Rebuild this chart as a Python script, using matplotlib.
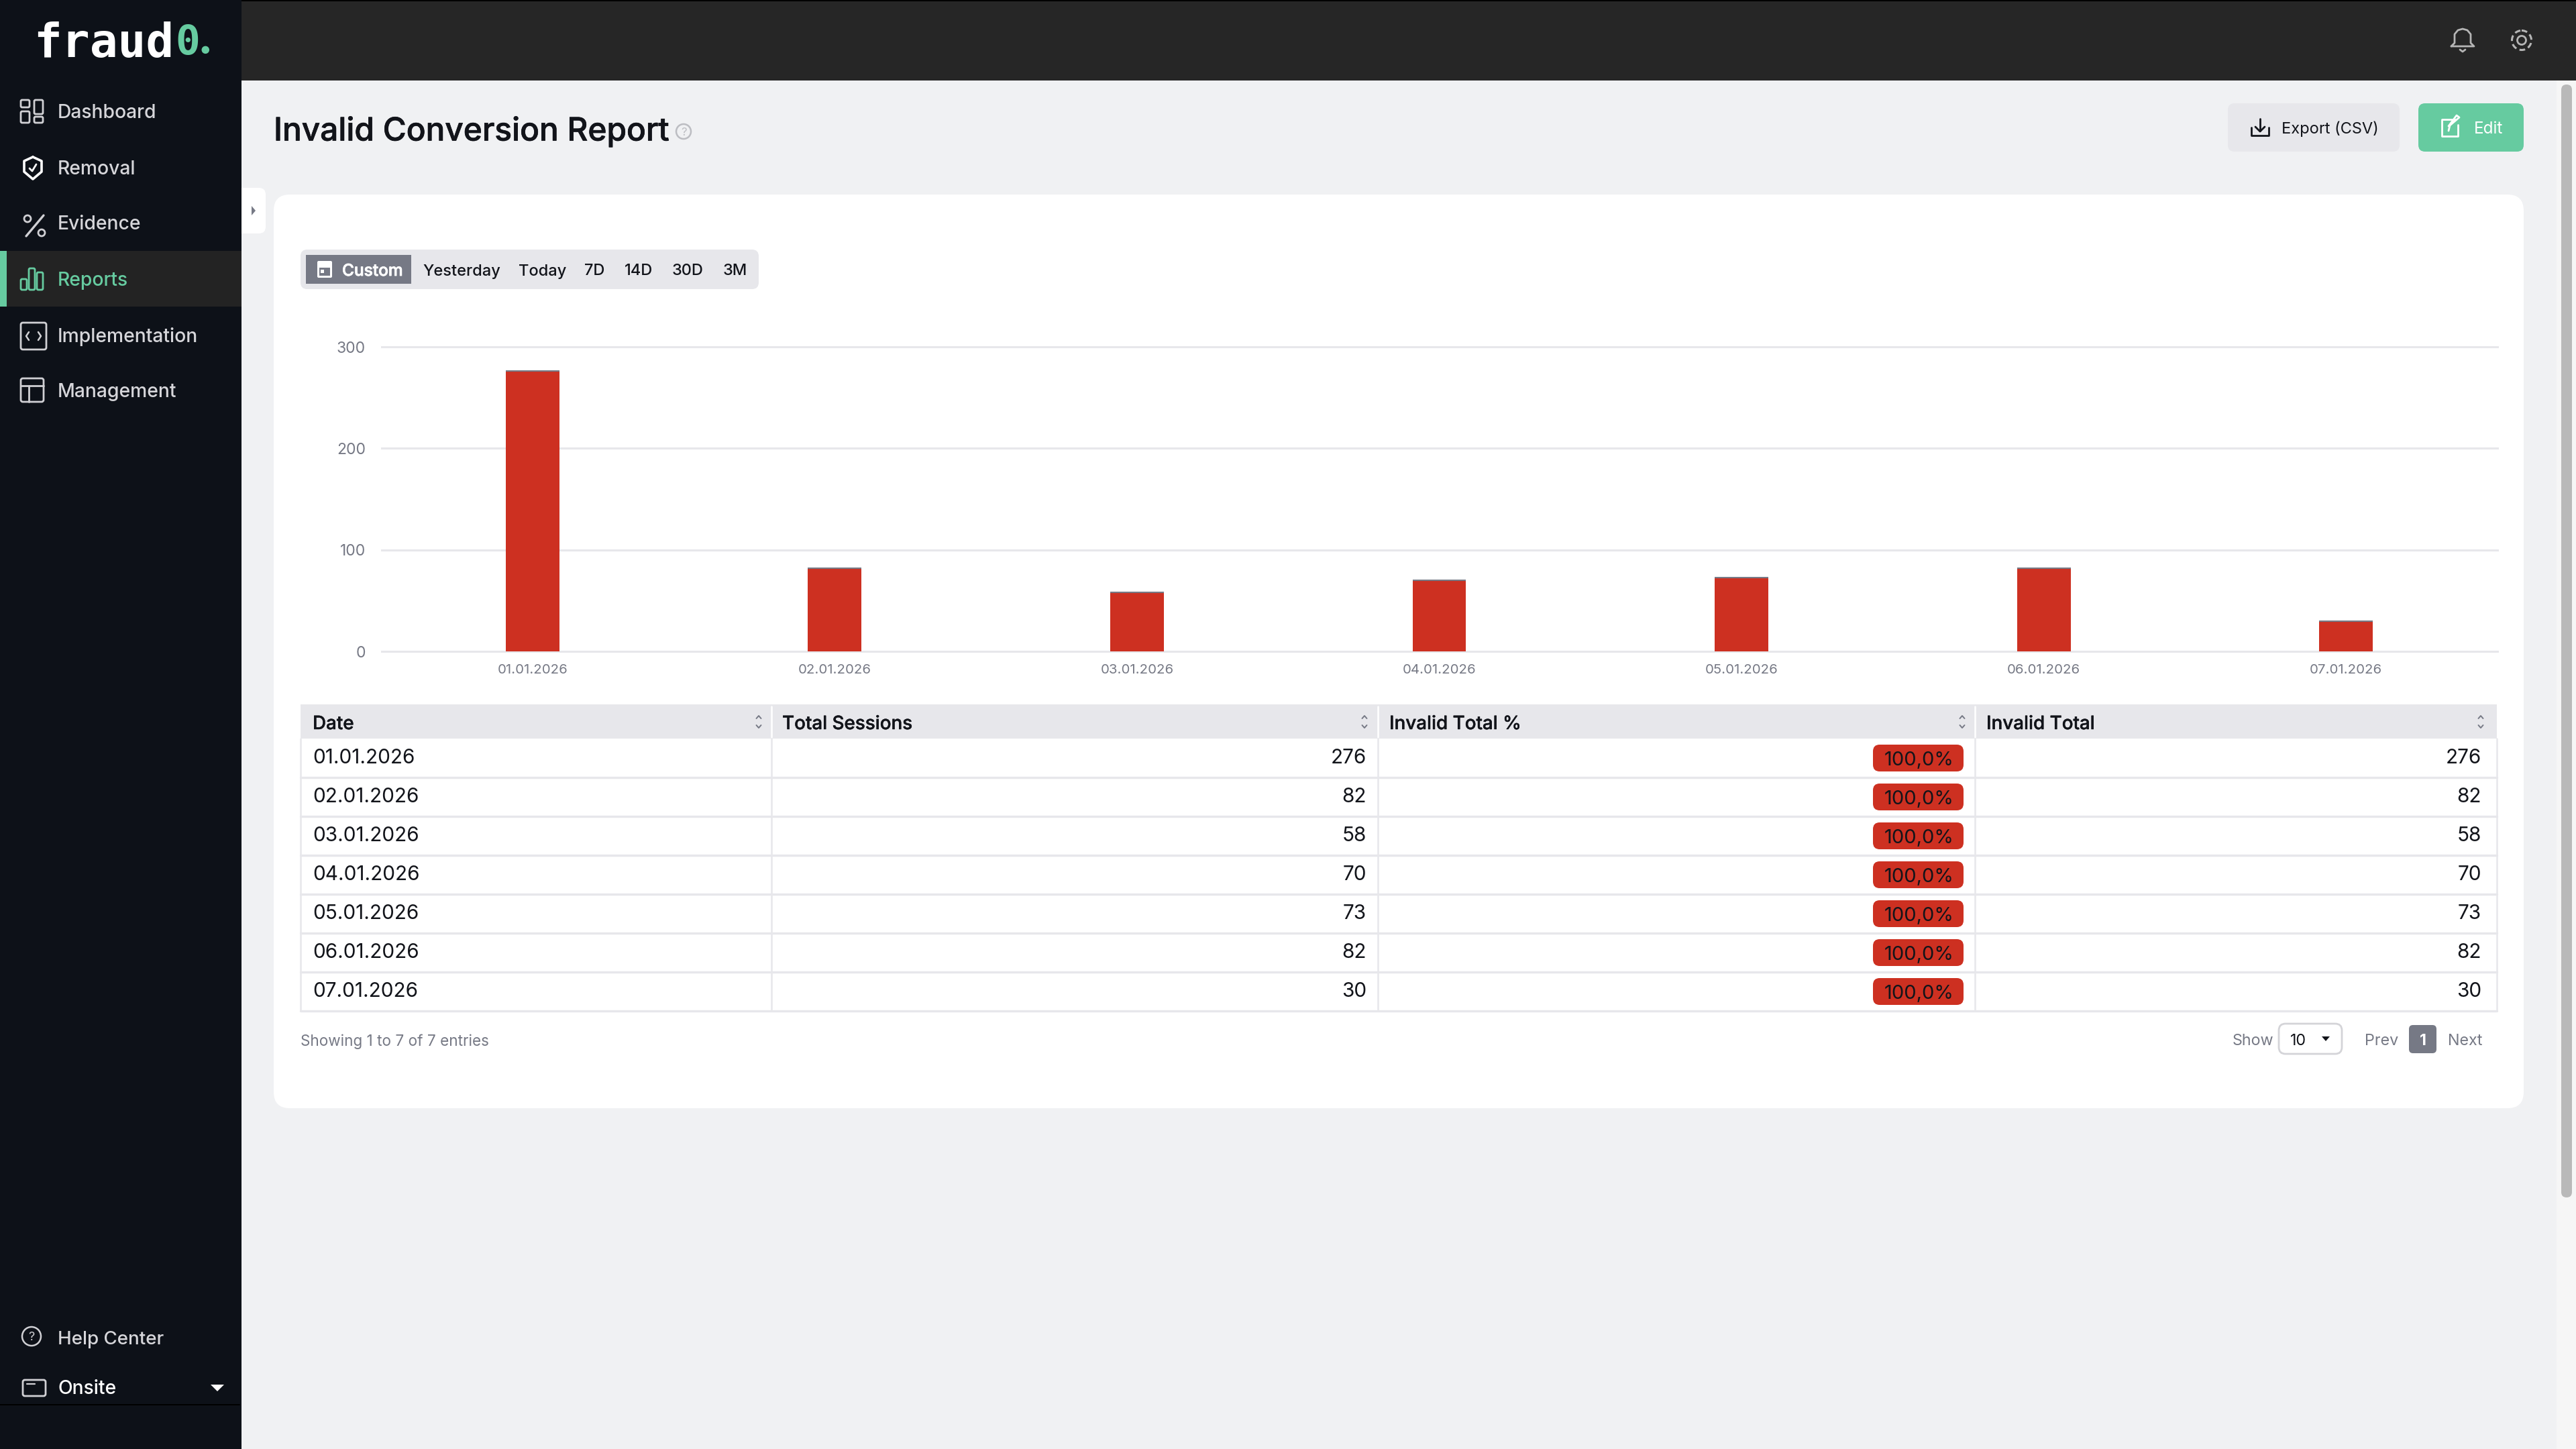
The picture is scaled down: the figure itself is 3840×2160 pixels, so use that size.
import matplotlib
matplotlib.use("Agg")
import matplotlib.pyplot as plt
import matplotlib.patheffects as pe
import numpy as np
from matplotlib.patches import FancyBboxPatch, Rectangle, Circle, Polygon

plt.rcParams['font.family'] = ['Inter', 'DejaVu Sans']

# ---------- data ----------
dates = ["01.01.2026", "02.01.2026", "03.01.2026", "04.01.2026", "05.01.2026", "06.01.2026", "07.01.2026"]
total_sessions = [276, 82, 58, 70, 73, 82, 30]
invalid_total = [276, 82, 58, 70, 73, 82, 30]
valid_total = [0, 0, 0, 0, 0, 0, 0]
invalid_pct = ["100,0%", "100,0%", "100,0%", "100,0%", "100,0%", "100,0%", "100,0%"]
y_ticks = [0, 100, 200, 300]
menu_labels = ["Dashboard", "Removal", "Evidence", "Reports", "Implementation", "Management"]
range_labels = ["Yesterday", "Today", "7D", "14D", "30D", "3M"]
headers = ["Date", "Total Sessions", "Invalid Total %", "Invalid Total"]

# ---------- colours ----------
SIDE = "#0d1118"; TOP = "#262626"; BG = "#f0f1f3"; GREEN = "#66cba0"; RED = "#cd3021"
LIGHT = "#e7e7eb"; GREY = "#767985"; INK = "#12141a"; MENU = "#d6d6da"

fig = plt.figure(figsize=(38.4, 21.6), dpi=100, facecolor=BG)
ui = fig.add_axes([0, 0, 1, 1], zorder=0)
ui.set_xlim(0, 3840); ui.set_ylim(2160, 0); ui.axis("off")


def rect(x0, y0, x1, y1, c, z=1):
    ui.add_patch(Rectangle((x0, y0), x1 - x0, y1 - y0, fc=c, ec="none", zorder=z))


def rrect(x0, y0, x1, y1, r, fc="none", ec="none", lw=0, z=2):
    ui.add_patch(FancyBboxPatch((x0 + r, y0 + r), x1 - x0 - 2 * r, y1 - y0 - 2 * r,
                                boxstyle=f"round,pad={r},rounding_size={r}",
                                fc=fc, ec=ec, lw=lw, zorder=z))


def line(xs, ys, c, lw=2.0, z=4):
    ui.plot(xs, ys, color=c, lw=lw, solid_capstyle="round", solid_joinstyle="round", zorder=z)


def txt(x, y, s, size, c=INK, ha="left", weight="normal", stroke=0, **kw):
    t = ui.text(x, y, s, fontsize=size, color=c, ha=ha, va="center_baseline", fontweight=weight, zorder=6, **kw)
    if stroke:
        t.set_path_effects([pe.withStroke(linewidth=stroke, foreground=c)])


# ---------- frame ----------
rect(360, 0, 3840, 120, TOP)
rect(360, 0, 3840, 2, "#000000", 2)
rect(0, 0, 360, 2160, SIDE)
rect(3811, 120, 3840, 2160, "#f6f6f6")
rrect(3818, 126, 3834, 1785, 8, fc="#b9b9b9")

# ---------- logo ----------
txt(50, 58, "fraud", 50, "#ffffff", weight="bold", family="DejaVu Sans Mono")
txt(261, 58, "0", 44, GREEN, weight="bold", family="DejaVu Sans Mono")
txt(297, 58, ".", 40, GREEN, weight="bold", stroke=1.5)

# ---------- sidebar ----------
menu_y = [165, 249, 332, 416, 499, 581.5]
rect(0, 374, 360, 457, "#232323", 2)
rect(0, 374, 10, 457, GREEN, 3)
for lab, y in zip(menu_labels, menu_y):
    txt(86, y, lab, 20.4, GREEN if lab == "Reports" else MENU, weight="medium")

IC = "#d0d0d4"
# dashboard icon
for (a, b, c, d) in [(31, 149, 44, 160), (51, 149, 64, 170), (31, 166, 44, 183), (51, 174, 64, 183)]:
    rrect(a, b, c, d, 2, ec=IC, lw=2, z=4)
# shield
sx = [49, 62, 62, 49, 36, 36, 49]; sy = [234, 240, 256, 267, 256, 240, 234]
line(sx, sy, "#ffffff", 2.6)
line([44, 48, 54], [251, 255, 245], "#ffffff", 2)
# percent
line([39, 65], [352, 321], IC, 2.4)
ui.add_patch(Circle((41, 326), 5, fc="none", ec=IC, lw=2, zorder=4))
ui.add_patch(Circle((62, 347), 5, fc="none", ec=IC, lw=2, zorder=4))
# reports
for (a, b) in [(31, 416), (43, 400), (55, 406)]:
    rrect(a, b, a + 9, 432, 2, ec=GREEN, lw=2, z=4)
# implementation
rrect(31, 481, 69, 521, 3, ec=IC, lw=2, z=4)
line([43, 39, 43], [495, 501, 507], IC, 1.8)
line([57, 61, 57], [495, 501, 507], IC, 1.8)
# management
rrect(31, 564, 65, 599, 3, ec=IC, lw=2, z=4)
line([31, 65], [575, 575], IC, 2)
line([43, 43], [575, 599], IC, 2)

# bottom of sidebar
ui.add_patch(Circle((47, 1992), 14, fc="none", ec=IC, lw=1.8, zorder=4))
txt(47, 1992, "?", 13, IC, ha="center")
txt(86, 1994, "Help Center", 20, MENU, weight="medium")
rrect(34, 2057, 68, 2081, 3, ec=IC, lw=2, z=4)
line([40, 52], [2063, 2063], IC, 1.6, z=5)
txt(86, 2068, "Onsite", 20.4, "#ffffff", weight="medium")
ui.add_patch(Polygon([[314, 2064], [334, 2064], [324, 2074]], fc="#ffffff", ec="none", zorder=4))
line([0, 357], [2094, 2094], "#000000", 1.4)

# top icons
BC = "#b5b5b5"
line([3654, 3659, 3659, 3664, 3671, 3678, 3683, 3683, 3688, 3654],
     [69, 64, 51, 45, 43, 45, 51, 64, 69, 69], BC, 2)
line([3667, 3671, 3675], [74, 77, 74], BC, 2)
ui.add_patch(Circle((3759, 60), 6.5, fc="none", ec=BC, lw=2, zorder=4))
ui.add_patch(Circle((3759, 60), 14.5, fc="none", ec=BC, lw=2.2, ls=(0, (2.8, 1.6)), zorder=4))

# ---------- title bar ----------
txt(408, 191, "Invalid Conversion Report", 34.4, INK, weight="medium", stroke=0.5)
ui.add_patch(Circle((1019, 196), 11, fc="none", ec="#bcbdc2", lw=1.8, zorder=4))
txt(1019, 196, "?", 12, "#bcbdc2", ha="center")

rrect(3321, 154, 3577, 226, 10, fc=LIGHT)
txt(3401, 190, "Export (CSV)", 17, INK)
line([3356, 3356, 3382, 3382], [190, 202, 202, 190], INK, 2)
line([3369, 3369], [177, 195], INK, 2)
line([3362, 3369, 3376], [189, 196, 189], INK, 2)
rrect(3605, 154, 3762, 226, 10, fc=GREEN)
txt(3688, 190, "Edit", 17.5, "#ffffff")
line([3660, 3640, 3640, 3664, 3664], [178, 178, 203, 203, 186], "#ffffff", 2)
line([3650, 3652, 3666, 3662, 3650], [195, 187, 175, 172, 188], "#ffffff", 2)

# collapse tab
rrect(340, 280, 396, 348, 10, fc="#ffffff", z=1)
rect(340, 270, 360, 360, SIDE, 1.5)
ui.add_patch(Polygon([[375, 307], [375, 321], [381, 314]], fc=GREY, ec="none", zorder=4))

# ---------- card ----------
rrect(408, 290, 3762, 1652, 24, fc="#ffffff", z=1)

# range selector
rrect(448, 372, 1131, 431, 10, fc=LIGHT)
rect(456, 380, 613, 423, GREY, 3)
rrect(473, 389, 495, 414, 2, fc="#ffffff", z=4)
rect(476, 399, 492, 411, GREY, 5)
rect(478, 402, 483, 407, "#ffffff", 5)
txt(510, 402, "Custom", 17.6, "#ffffff", weight="medium", stroke=0.6)
for lab, x in zip(range_labels, [630, 773, 871, 931, 1002, 1078]):
    txt(x, 402, lab, 17, INK, weight="medium")

# ---------- table ----------
T_L, T_R = 448, 3722
col_sep = [1150, 2053.5, 2943.5]
head_x = [466, 1166, 2071, 2961]
sort_x = [1131, 2034, 2925, 3698]
H_T, H_B = 1050, 1101
ROW = 58
rect(T_L, H_T, T_R, H_B, LIGHT, 2)
for lab, x, sx_ in zip(headers, head_x, sort_x):
    txt(x, 1077, lab, 20, INK, weight="medium", stroke=0.3)
    line([sx_ - 3.5, sx_, sx_ + 3.5], [1071, 1067, 1071], GREY, 1.4)
    line([sx_ - 3.5, sx_, sx_ + 3.5], [1081, 1085, 1081], GREY, 1.4)
n = len(dates)
for x in col_sep:
    line([x, x], [H_T + 3, H_B - 2], "#ffffff", 1.8)
    line([x, x], [H_B, H_B + n * ROW], LIGHT, 1.8)
line([T_L, T_L], [H_B, H_B + n * ROW], LIGHT, 1.8)
line([T_R, T_R], [H_B, H_B + n * ROW], LIGHT, 1.8)
for i in range(n):
    yb = H_B + (i + 1) * ROW
    line([T_L, T_R], [yb, yb], LIGHT, 2.4)
    yc = H_B + i * ROW + 26
    txt(466, yc, dates[i], 21.4, INK)
    txt(2037, yc, str(total_sessions[i]), 21.4, INK, ha="right")
    txt(3699, yc, str(invalid_total[i]), 21.4, INK, ha="right")
    rrect(2792, H_B + i * ROW + 9, 2927, H_B + i * ROW + 49, 10, fc=RED, z=3)
    txt(2861, H_B + i * ROW + 30, invalid_pct[i], 21, INK, ha="center")

# footer
txt(448, 1550, "Showing 1 to 7 of 7 entries", 16.2, GREY)
txt(3328, 1550, "Show", 16.8, GREY)
rrect(3397, 1526, 3491, 1571, 10, fc="#ffffff", ec="#d4d4d8", lw=2, z=3)
txt(3414, 1549, "10", 16.8, INK)
ui.add_patch(Polygon([[3461, 1545], [3473, 1545], [3467, 1552]], fc=INK, ec="none", zorder=4))
txt(3525, 1550, "Prev", 16.8, GREY)
rrect(3591, 1528, 3632, 1570, 6, fc=GREY, z=3)
txt(3611.5, 1549, "1", 16.8, "#ffffff", ha="center", weight="bold")
txt(3649, 1550, "Next", 16.8, GREY)

# ---------- chart ----------
ax = fig.add_axes([568.5 / 3840, 1 - 971 / 2160, (3722 - 568) / 3840, 454 / 2160], zorder=1)
ax.patch.set_alpha(0)
xpos = np.arange(len(dates))
ax.bar(xpos, invalid_total, width=0.1775, color=RED, linewidth=0, zorder=3)
ax.bar(xpos, valid_total, bottom=invalid_total, width=0.1775, color=GREY,
       edgecolor=GREY, linewidth=1.5, zorder=3)
ax.set_xlim(-0.5, len(dates) - 0.5)
ax.set_ylim(0, 300)
ax.set_yticks(y_ticks)
ax.set_xticks(xpos, dates)
ax.grid(axis="y", color=LIGHT, lw=2.2, zorder=0)
ax.tick_params(axis="both", length=0, labelcolor=GREY)
ax.tick_params(axis="y", pad=17, labelsize=16.5)
ax.tick_params(axis="x", pad=14, labelsize=14.7)
for s in ax.spines.values():
    s.set_visible(False)
for lab in ax.get_yticklabels() + ax.get_xticklabels():
    lab.set_clip_on(False)
for g in ax.get_ygridlines():
    g.set_clip_on(False)

fig.savefig("out.png", dpi=100, facecolor=BG)
